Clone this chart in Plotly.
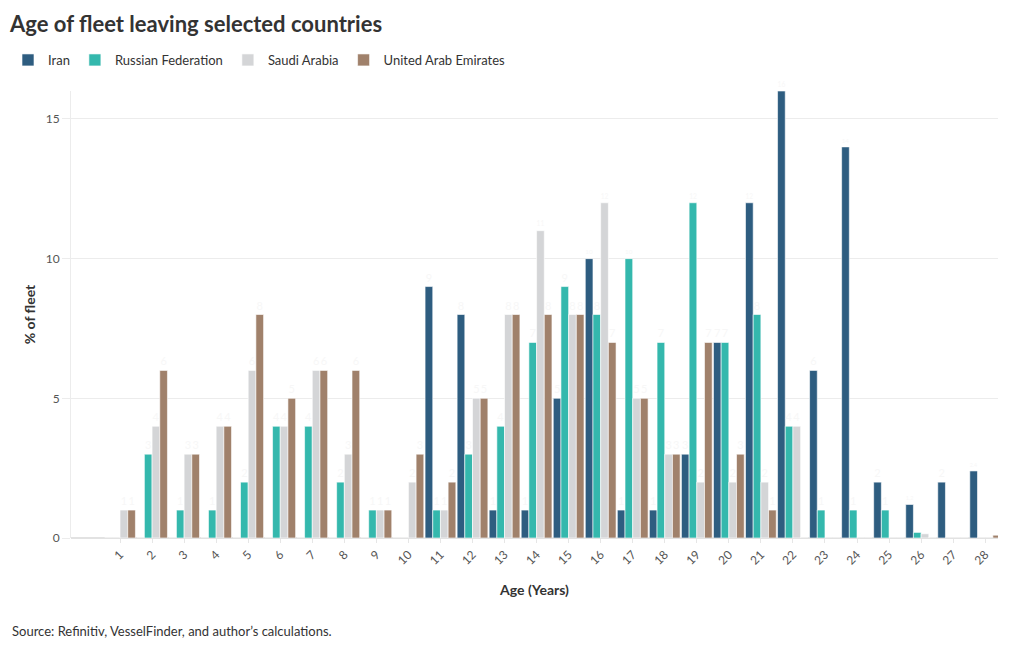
import plotly.graph_objects as go

ages = list(range(1, 29))
iran = [0, 0, 0, 0, 0, 0, 0, 0, 0, 0, 9, 8, 1, 1, 5, 10, 1, 1, 3, 7, 12, 16, 6, 14, 2, 1.2, 2, 2.4]
russia = [0, 3, 1, 1, 2, 4, 4, 2, 1, 0, 1, 3, 4, 7, 9, 8, 10, 7, 12, 7, 8, 4, 1, 1, 1, 0.2, 0, 0]
saudi = [1, 4, 3, 4, 6, 4, 6, 3, 1, 2, 1, 5, 8, 11, 8, 12, 5, 3, 2, 2, 2, 4, 0, 0, 0, 0.15, 0, 0]
uae = [1, 6, 3, 4, 8, 5, 6, 6, 1, 3, 2, 5, 8, 8, 8, 7, 5, 3, 7, 3, 1, 0, 0, 0, 0, 0, 0, 0.1]

series = [
    ("Iran", iran, "#2e5d80"),
    ("Russian Federation", russia, "#34b8ad"),
    ("Saudi Arabia", saudi, "#d4d5d7"),
    ("United Arab Emirates", uae, "#a0816b"),
]

FONT = "Lato, 'Noto Sans', sans-serif"
OFF = 8  # page body margin offset

L, T = 71 - OFF, 91 - OFF
R, B = 1020 - (998 - OFF), 650 - (538 - OFF)
PW, PH = 1020 - L - R, 650 - T - B

fig = go.Figure()
for name, vals, col in series:
    fig.add_trace(go.Bar(
        x=ages, y=vals, name=name,
        marker=dict(color=col, line=dict(color="white", width=0.6)),
        text=[("%g" % v) if v >= 1 else "" for v in vals],
        textposition="outside",
        textfont=dict(color="#f7f7f7", size=11, family=FONT),
        cliponaxis=False,
        hovertemplate="%{x}: %{y}<extra>" + name + "</extra>",
    ))

fig.update_layout(
    width=1020, height=650,
    paper_bgcolor="white", plot_bgcolor="white",
    barmode="group", bargap=0.04, bargroupgap=0,
    margin=dict(l=L, r=R, t=T, b=B, autoexpand=False),
    font=dict(family=FONT, color="#333333", size=13),
    title=dict(text="<b>Age of fleet leaving selected countries</b>",
               x=(10 - OFF) / 1020, xref="container", xanchor="left",
               y=1 - (24 - OFF) / 650, yref="container", yanchor="middle",
               font=dict(size=22, color="#333333", family=FONT)),
    legend=dict(orientation="h", x=(10 - OFF - 22) / 1020, xref="container", xanchor="left",
                y=1 - (60 - OFF) / 650, yref="container", yanchor="middle",
                font=dict(size=13, color="#333333"), itemwidth=30,
                traceorder="normal"),
    xaxis=dict(
        range=[-0.53, 28.4], tickmode="array", tickvals=ages,
        ticktext=[str(a) for a in ages], tickangle=-45,
        tickfont=dict(size=12, color="#555555"),
        showgrid=False, zeroline=False, showline=False,
        ticks="outside", ticklen=4, tickcolor="#e6e6e6",
        title=dict(text="<b>Age (Years)</b>", font=dict(size=14, color="#333333"), standoff=18),
    ),
    yaxis=dict(
        range=[0, 16], tickvals=[0, 5, 10, 15],
        tickfont=dict(size=12, color="#555555"),
        showgrid=True, gridcolor="#ececec", gridwidth=1,
        zeroline=True, zerolinecolor="#e2e2e2",
        showline=True, linecolor="#ececec", linewidth=1,
        ticks="outside", ticklen=8, tickcolor="#ececec",
        title=dict(text="<b>% of fleet</b>", font=dict(size=14, color="#333333"), standoff=6),
    ),
    annotations=[dict(
        text="Source: Refinitiv, VesselFinder, and author\u2019s calculations.",
        xref="paper", yref="paper",
        x=(10 - OFF - L) / PW, y=-(631 - OFF - (650 - B)) / PH,
        xanchor="left", yanchor="middle",
        showarrow=False, font=dict(size=13, color="#333333"),
    )],
)

fig.write_html("out.html")
